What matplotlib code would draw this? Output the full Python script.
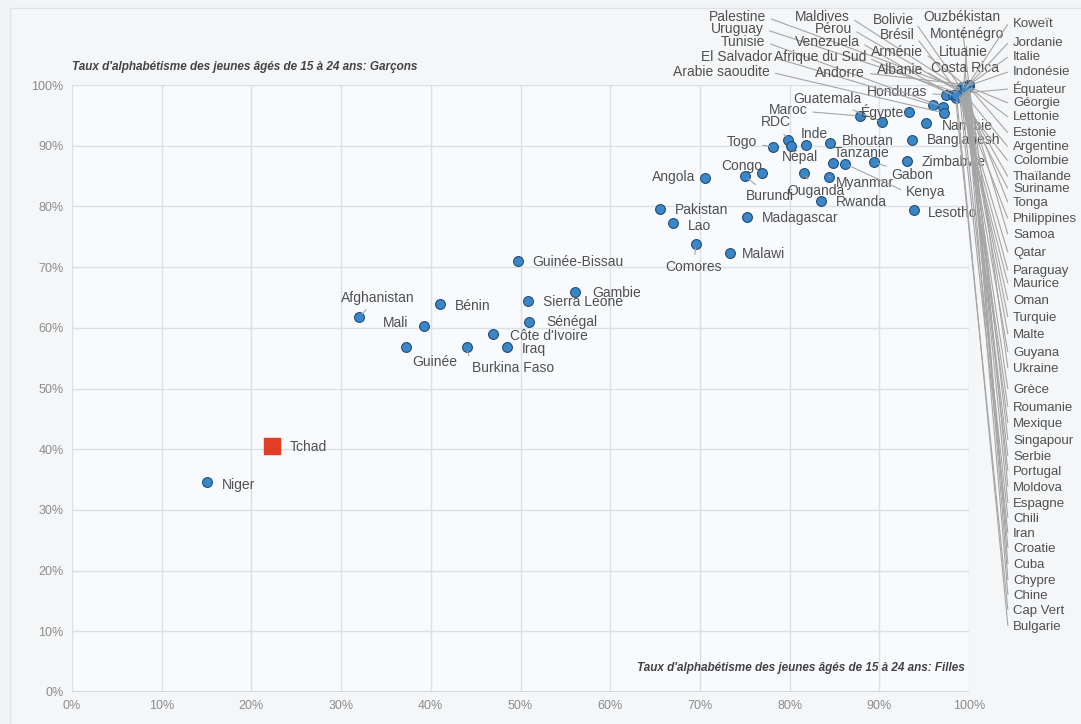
import matplotlib.pyplot as plt
from matplotlib.patches import Rectangle

plt.rcParams['font.family'] = ['Liberation Sans', 'DejaVu Sans']

# --- données : taux d'alphabétisme des 15-24 ans (%) ---
pays = ['Niger', 'Tchad', 'Afghanistan', 'Mali', 'Guinée', 'Bénin', 'Burkina Faso',
        "Côte d'Ivoire", 'Iraq', 'Sierra Leone', 'Sénégal', 'Guinée-Bissau', 'Gambie',
        'Pakistan', 'Lao', 'Comores', 'Malawi', 'Angola', 'Burundi', 'Congo',
        'Madagascar', 'Rwanda', 'Ouganda', 'Myanmar', 'Tanzanie', 'Kenya', 'Gabon',
        'Togo', 'RDC', 'Népal', 'Inde', 'Bhoutan', 'Zimbabwe', 'Bangladesh', 'Lesotho',
        'Maroc', 'Guatemala', 'Égypte', 'Namibie', 'Honduras',
        'Palestine', 'Uruguay', 'Tunisie', 'El Salvador', 'Arabie saoudite',
        'Maldives', 'Pérou', 'Venezuela', 'Afrique du Sud', 'Andorre',
        'Bolivie', 'Brésil', 'Arménie', 'Albanie',
        'Ouzbékistan', 'Monténégro', 'Lituanie', 'Costa Rica',
        'Koweït', 'Jordanie', 'Italie', 'Indonésie', 'Équateur', 'Géorgie', 'Lettonie',
        'Estonie', 'Argentine', 'Colombie', 'Thaïlande', 'Suriname', 'Tonga',
        'Philippines', 'Samoa', 'Qatar', 'Paraguay', 'Maurice', 'Oman', 'Turquie',
        'Malte', 'Guyana', 'Ukraine', 'Grèce', 'Roumanie', 'Mexique', 'Singapour',
        'Serbie', 'Portugal', 'Moldova', 'Espagne', 'Chili', 'Iran', 'Croatie', 'Cuba',
        'Chypre', 'Chine', 'Cap Vert', 'Bulgarie']

filles = [15.0, 22.3, 32.0, 39.2, 37.2, 41.0, 44.0,
          46.9, 48.5, 50.8, 50.9, 49.7, 56.1,
          65.5, 67.0, 69.6, 73.3, 70.6, 75.0, 76.9,
          75.2, 83.5, 81.6, 84.4, 84.8, 86.2, 89.4,
          78.2, 79.8, 80.2, 81.8, 84.5, 93.1, 93.6, 93.9,
          87.8, 90.3, 93.3, 95.2, 97.4,
          99.4, 99.0, 97.1, 96.0, 97.2,
          99.3, 98.9, 98.5, 98.2, 100.0,
          99.1, 99.0, 99.8, 99.3,
          100.0, 99.4, 99.8, 99.3,
          99.4, 99.4, 99.9, 99.6, 99.0, 99.8, 99.8,
          99.9, 99.3, 98.8, 99.0, 98.9, 99.4,
          98.9, 99.6, 99.0, 99.0, 98.9, 99.0, 99.2,
          99.4, 99.2, 100.0, 99.3, 99.2, 99.3, 99.8,
          99.4, 99.5, 100.0, 99.7, 99.1, 98.9, 99.7, 100.0,
          99.9, 99.6, 98.5, 98.6]

garcons = [34.6, 40.5, 61.8, 60.3, 56.8, 63.9, 56.8,
           59.0, 56.8, 64.4, 61.0, 71.0, 65.9,
           79.6, 77.3, 73.8, 72.3, 84.7, 85.0, 85.5,
           78.3, 80.9, 85.5, 84.9, 87.1, 87.0, 87.3,
           89.8, 90.9, 90.0, 90.1, 90.4, 87.5, 90.9, 79.4,
           94.9, 93.9, 95.6, 93.7, 98.4,
           99.2, 98.6, 96.4, 96.7, 95.4,
           99.2, 98.9, 98.0, 98.4, 100.0,
           99.5, 98.4, 99.7, 98.8,
           100.0, 99.4, 99.8, 98.9,
           98.9, 99.1, 99.9, 99.7, 98.6, 99.8, 99.8,
           99.8, 98.9, 98.0, 98.9, 98.4, 99.3,
           98.6, 99.3, 98.6, 98.6, 98.4, 99.2, 99.7,
           98.7, 98.8, 100.0, 99.4, 99.0, 98.9, 99.8,
           99.2, 99.4, 100.0, 99.6, 98.8, 98.8, 99.6, 100.0,
           99.8, 99.7, 97.9, 98.4]

pays_rouge = 'Tchad'

# libellés de la colonne de droite, de haut en bas
droite = ['Koweït', 'Jordanie', 'Italie', 'Indonésie', 'Équateur', 'Géorgie', 'Lettonie',
          'Estonie', 'Argentine', 'Colombie', 'Thaïlande', 'Suriname', 'Tonga',
          'Philippines', 'Samoa', 'Qatar', 'Paraguay', 'Maurice', 'Oman', 'Turquie',
          'Malte', 'Guyana', 'Ukraine', 'Grèce', 'Roumanie', 'Mexique', 'Singapour',
          'Serbie', 'Portugal', 'Moldova', 'Espagne', 'Chili', 'Iran', 'Croatie', 'Cuba',
          'Chypre', 'Chine', 'Cap Vert', 'Bulgarie']

# --- mise en page (pixels de l'image) ---
W, H = 1081, 724
droite_y = [24, 43, 57, 72, 89, 103, 117, 133, 147, 161, 177, 189, 203, 219, 235, 253,
            271, 284, 301, 318, 335, 353, 369, 390, 408, 424, 441, 457, 472, 488, 504,
            519, 534, 549, 565, 581, 596, 611, 627]

# nom: (x, y, alignement, trait de rappel)
labels = {
    'Niger': (222, 485, 'left', False), 'Tchad': (290, 447, 'left', False),
    'Afghanistan': (378, 298, 'center', True), 'Mali': (396, 323, 'center', False),
    'Guinée': (435, 362, 'center', False), 'Bénin': (455, 306, 'left', False),
    'Burkina Faso': (472, 368, 'left', True), "Côte d'Ivoire": (510, 336, 'left', False),
    'Iraq': (522, 349, 'left', False), 'Sierra Leone': (543, 302, 'left', False),
    'Sénégal': (546, 322, 'left', False), 'Guinée-Bissau': (532, 262, 'left', False),
    'Gambie': (592, 293, 'left', False), 'Pakistan': (675, 210, 'left', False),
    'Lao': (688, 226, 'left', False), 'Comores': (693, 267, 'center', True),
    'Malawi': (742, 254, 'left', False), 'Angola': (674, 177, 'center', False),
    'Congo': (742, 166, 'center', False), 'Burundi': (770, 196, 'center', True),
    'Madagascar': (762, 218, 'left', False), 'Rwanda': (836, 202, 'left', False),
    'Ouganda': (816, 191, 'center', True), 'Myanmar': (865, 183, 'center', True),
    'Tanzanie': (862, 153, 'center', False), 'Kenya': (906, 192, 'left', True),
    'Gabon': (912, 175, 'center', True), 'Togo': (742, 142, 'center', True),
    'RDC': (776, 122, 'center', True), 'Népal': (800, 157, 'center', False),
    'Inde': (814, 134, 'center', False), 'Bhoutan': (842, 141, 'left', False),
    'Zimbabwe': (922, 162, 'left', False), 'Bangladesh': (927, 140, 'left', False),
    'Lesotho': (928, 213, 'left', False), 'Maroc': (788, 110, 'center', True),
    'Guatemala': (827, 99, 'center', True), 'Égypte': (882, 112, 'center', False),
    'Namibie': (967, 126, 'center', False), 'Honduras': (897, 92, 'center', True),
    'Palestine': (766, 17, 'right', True), 'Uruguay': (764, 29, 'right', True),
    'Tunisie': (765, 42, 'right', True), 'El Salvador': (772, 57, 'right', True),
    'Arabie saoudite': (770, 72, 'right', True),
    'Maldives': (822, 17, 'center', True), 'Pérou': (833, 29, 'center', True),
    'Venezuela': (827, 42, 'center', True), 'Afrique du Sud': (820, 57, 'center', True),
    'Andorre': (840, 73, 'center', True),
    'Bolivie': (893, 20, 'center', True), 'Brésil': (897, 35, 'center', True),
    'Arménie': (897, 52, 'center', True), 'Albanie': (900, 70, 'center', True),
    'Ouzbékistan': (962, 17, 'center', True), 'Monténégro': (967, 34, 'center', True),
    'Lituanie': (963, 52, 'center', True), 'Costa Rica': (965, 68, 'center', True),
}
for nom, yy in zip(droite, droite_y):
    labels[nom] = (1013, yy, 'left', True)

fig = plt.figure(figsize=(W / 100, H / 100), dpi=100, facecolor='#f3f4f6')
fig.patches.append(Rectangle((10 / W, -0.1), 1.2, 1.1 - 8 / H, transform=fig.transFigure,
                             facecolor='#f5f6f8', edgecolor='#e0e2e6', lw=1, zorder=-10))

ax = fig.add_axes([72 / W, 1 - 692 / H, (969 - 72) / W, (692 - 85) / H])
ax.set_facecolor('#f8fafd')
ax.set_xlim(0, 100)
ax.set_ylim(0, 100)
ticks = list(range(0, 101, 10))
ax.set_xticks(ticks)
ax.set_yticks(ticks)
ax.set_xticklabels([f'{t}%' for t in ticks])
ax.set_yticklabels([f'{t}%' for t in ticks])
ax.tick_params(length=0, colors='#8c8c8c', labelsize=9, pad=6)
ax.grid(color='#dcdfe4', lw=1)
ax.set_axisbelow(True)
for s in ax.spines.values():
    s.set_visible(False)
ax.axhline(0, color='#d0d3d8', lw=1.2)

bleus_x = [f for p, f in zip(pays, filles) if p != pays_rouge]
bleus_y = [g for p, g in zip(pays, garcons) if p != pays_rouge]
ax.scatter(bleus_x, bleus_y, s=50, color='#3b86c6', edgecolor='#1f4e7c', lw=0.8,
           zorder=3, clip_on=False)
i = pays.index(pays_rouge)
ax.scatter([filles[i]], [garcons[i]], s=120, marker='s', color='#e43d27', zorder=4,
           clip_on=False)

cols_haut = ('Ouzbékistan', 'Monténégro', 'Lituanie', 'Costa Rica')
for p, f, g in zip(pays, filles, garcons):
    x, y, ha, trait = labels[p]
    taille = 9.5 if p in droite else 10
    kw = dict(xy=(f, g), xycoords='data', xytext=(x, H - y), textcoords='figure pixels',
              ha=ha, va='center', fontsize=taille, color='#505050', annotation_clip=False,
              zorder=5)
    if trait:
        rel = {'left': (0, 0.5), 'right': (1, 0.5), 'center': (0.5, 0.5)}[ha]
        if p in cols_haut:
            rel = (0.5, 0)
        elif y < 80 and ha == 'center':
            rel = (1, 0.5)
        style = 'arc3'
        if p in droite:
            style = 'arc,angleA=180,armA=5,angleB=0,armB=0,rad=0'
        kw['arrowprops'] = dict(arrowstyle='-', color='#a5a5a5', lw=0.8, relpos=rel,
                                shrinkA=2, shrinkB=3, connectionstyle=style)
    ax.annotate(p, **kw)

fig.text(72 / W, 1 - 67 / H, "Taux d'alphabétisme des jeunes âgés de 15 à 24 ans: Garçons",
         fontsize=8.5, fontweight='bold', style='italic', color='#444444', va='center')
fig.text(965 / W, 1 - 668 / H, "Taux d'alphabétisme des jeunes âgés de 15 à 24 ans: Filles",
         fontsize=8.5, fontweight='bold', style='italic', color='#444444', va='center',
         ha='right')

fig.savefig('out.png', dpi=100, facecolor=fig.get_facecolor())
